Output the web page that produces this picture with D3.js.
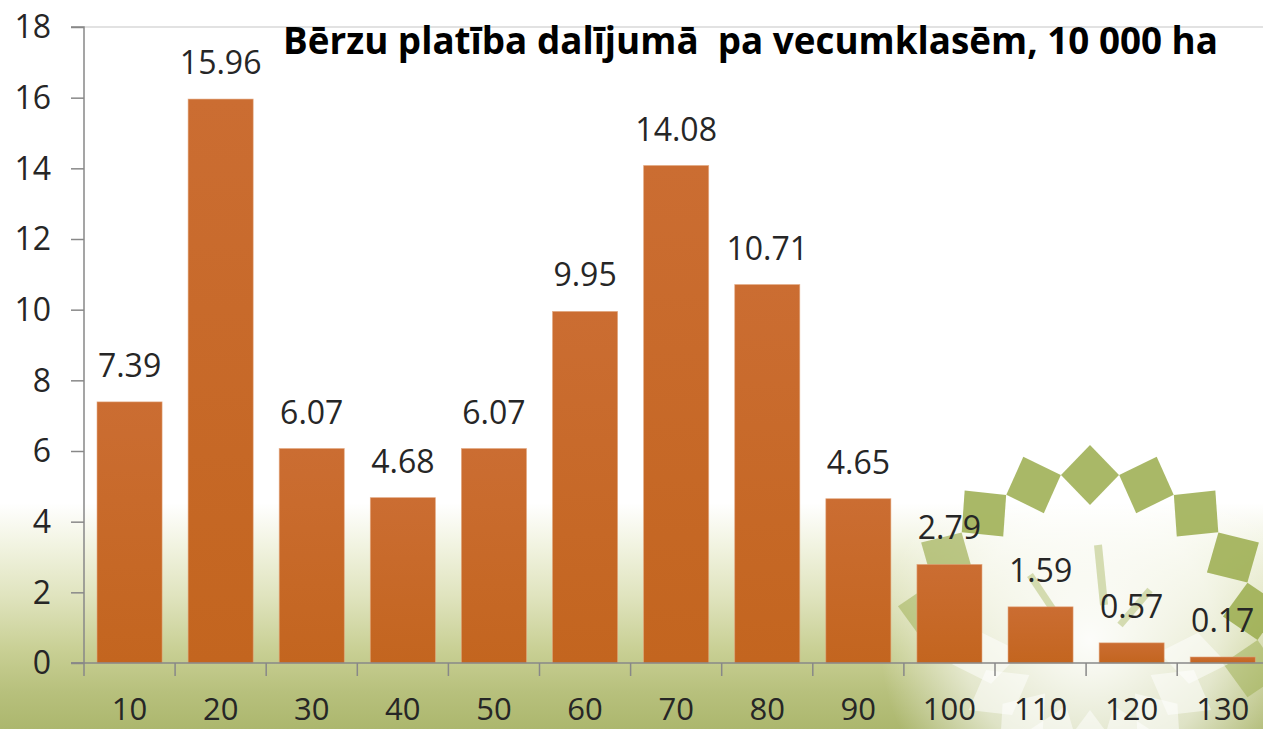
<!DOCTYPE html>
<html>
<head>
<meta charset="utf-8">
<script src="https://cdn.jsdelivr.net/npm/d3@7/dist/d3.min.js"></script>
<style>
html,body{margin:0;padding:0;background:#fff;overflow:hidden;}
svg{display:block;}
</style>
</head>
<body>
<svg id="chart" width="1263" height="729"></svg>
<script>
const categories = ["10","20","30","40","50","60","70","80","90","100","110","120","130"];
const values = [7.39,15.96,6.07,4.68,6.07,9.95,14.08,10.71,4.65,2.79,1.59,0.57,0.17];
const valueLabels = ["7.39","15.96","6.07","4.68","6.07","9.95","14.08","10.71","4.65","2.79","1.59","0.57","0.17"];
const yTicks = [0,2,4,6,8,10,12,14,16,18];
const title = "Bērzu platība dalījumā  pa vecumklasēm, 10 000 ha";

(function(){
const W = 1263, H = 729;
const svg = d3.select("#chart");
const defs = svg.append("defs");

// background gradient
const bg = defs.append("linearGradient").attr("id","bg").attr("x1",0).attr("y1",0).attr("x2",0).attr("y2",1);
[[0,"#ffffff"],[0.69,"#ffffff"],[0.75,"#f1f3e0"],[0.82,"#dfe3bd"],[0.89,"#c9d095"],[0.95,"#b7c07c"],[1,"#acb76e"]]
  .forEach(s=>bg.append("stop").attr("offset",s[0]).attr("stop-color",s[1]));
svg.append("rect").attr("width",W).attr("height",H).attr("fill","url(#bg)");

// decorative glow + flower
const glow = defs.append("radialGradient").attr("id","glow");
glow.append("stop").attr("offset",0).attr("stop-color","#ffffff").attr("stop-opacity",0.95);
glow.append("stop").attr("offset",0.6).attr("stop-color","#ffffff").attr("stop-opacity",0.6);
glow.append("stop").attr("offset",1).attr("stop-color","#ffffff").attr("stop-opacity",0);
const cx = 1090, cy = 640;
svg.append("circle").attr("cx",cx).attr("cy",cy).attr("r",210).attr("fill","url(#glow)");

const flower = svg.append("g");
function petal(a, r1, rm, r2, hw, fill, op){
  const t = a*Math.PI/180;
  const ux=Math.cos(t), uy=-Math.sin(t), vx=Math.sin(t), vy=Math.cos(t);
  const pts=[[cx+ux*r1,cy+uy*r1],[cx+ux*rm+vx*hw,cy+uy*rm+vy*hw],[cx+ux*r2,cy+uy*r2],[cx+ux*rm-vx*hw,cy+uy*rm-vy*hw]];
  flower.append("path").attr("d","M"+pts.map(p=>p.join(",")).join("L")+"Z")
    .attr("fill",fill).attr("opacity",op);
}
d3.range(-10, 171, 20).forEach(a=>{
  const op = (a<5||a>160)?0.5:(a>140?0.65:0.85);
  petal(a, 135, 165, 195, 29, "#9aab4c", op);
});
d3.range(190, 351, 20).forEach(a=>{
  petal(a, 70, 105, 140, 26, "#ffffff", 0.5);
});
[[1098,545,1104,605,8],[1030,575,1060,620,7],[1150,590,1120,625,7]].forEach(r=>{
  flower.append("line").attr("x1",r[0]).attr("y1",r[1]).attr("x2",r[2]).attr("y2",r[3])
    .attr("stroke","#a9b862").attr("stroke-width",r[4]).attr("opacity",0.45);
});

// scales
const pLeft = 84, pTop = 27, pBottom = 663;
const x = d3.scaleBand().domain(categories).range([pLeft, pLeft + 13*91.1]).paddingInner(0.286).paddingOuter(0.143);
const y = d3.scaleLinear().domain([0,18]).range([pBottom, pTop]);

svg.append("line").attr("x1",pLeft).attr("x2",W).attr("y1",y(18)).attr("y2",y(18))
  .attr("stroke","#d9d9d9").attr("stroke-width",1.5);

const bgr = defs.append("linearGradient").attr("id","bar").attr("x1",0).attr("y1",0).attr("x2",0).attr("y2",1);
bgr.append("stop").attr("offset",0).attr("stop-color","#cb6d32");
bgr.append("stop").attr("offset",1).attr("stop-color","#c3651f");

svg.append("g").selectAll("rect").data(values).join("rect")
  .attr("x",(d,i)=>x(categories[i]))
  .attr("y",d=>y(d))
  .attr("width",x.bandwidth())
  .attr("height",d=>y(0)-y(d))
  .attr("fill","url(#bar)")
  .attr("stroke","#e2a57c").attr("stroke-width",0.8).attr("stroke-opacity",0.7);

svg.append("g").selectAll("text").data(values).join("text")
  .attr("x",(d,i)=>x(categories[i])+x.bandwidth()/2)
  .attr("y",d=>y(d)-25)
  .attr("text-anchor","middle")
  .attr("font-family","'Open Sans', sans-serif").attr("font-size",32)
  .attr("fill","#262626")
  .text((d,i)=>valueLabels[i]);

const yAxis = d3.axisLeft(y).tickValues(yTicks).tickSize(13).tickPadding(20).tickFormat(d3.format("d"));
const gy = svg.append("g").attr("transform",`translate(${pLeft},0)`).call(yAxis);
gy.select(".domain").attr("stroke","#888").attr("stroke-width",1.5).attr("d",`M-13,${pBottom}H0V${pTop}H-13`);
gy.selectAll(".tick line").attr("stroke","#888").attr("stroke-width",1.5);
gy.selectAll(".tick text").attr("font-family","'Open Sans', sans-serif").attr("font-size",32).attr("fill","#262626").attr("dy","0.34em");

const gx = svg.append("g").attr("transform",`translate(0,${pBottom})`);
gx.append("line").attr("x1",pLeft-13).attr("x2",W).attr("y1",0).attr("y2",0).attr("stroke","#888").attr("stroke-width",1.5);
const step = x.step();
gx.selectAll("line.tk").data(categories).join("line").attr("class","tk")
  .attr("x1",d=>x(d)-step*0.143).attr("x2",d=>x(d)-step*0.143)
  .attr("y1",0).attr("y2",13).attr("stroke","#888").attr("stroke-width",1.5);
gx.selectAll("text").data(categories).join("text")
  .attr("x",d=>x(d)+x.bandwidth()/2).attr("y",57)
  .attr("text-anchor","middle")
  .attr("font-family","'Open Sans', sans-serif").attr("font-size",31).attr("fill","#262626")
  .text(d=>d);

svg.append("text").attr("x",283).attr("y",54)
  .style("white-space","pre")
  .attr("font-family","'Open Sans', sans-serif").attr("font-weight","bold").attr("font-size",37)
  .attr("fill","#000").attr("textLength",935).attr("lengthAdjust","spacingAndGlyphs")
  .text(title);
})();
</script>
</body>
</html>
